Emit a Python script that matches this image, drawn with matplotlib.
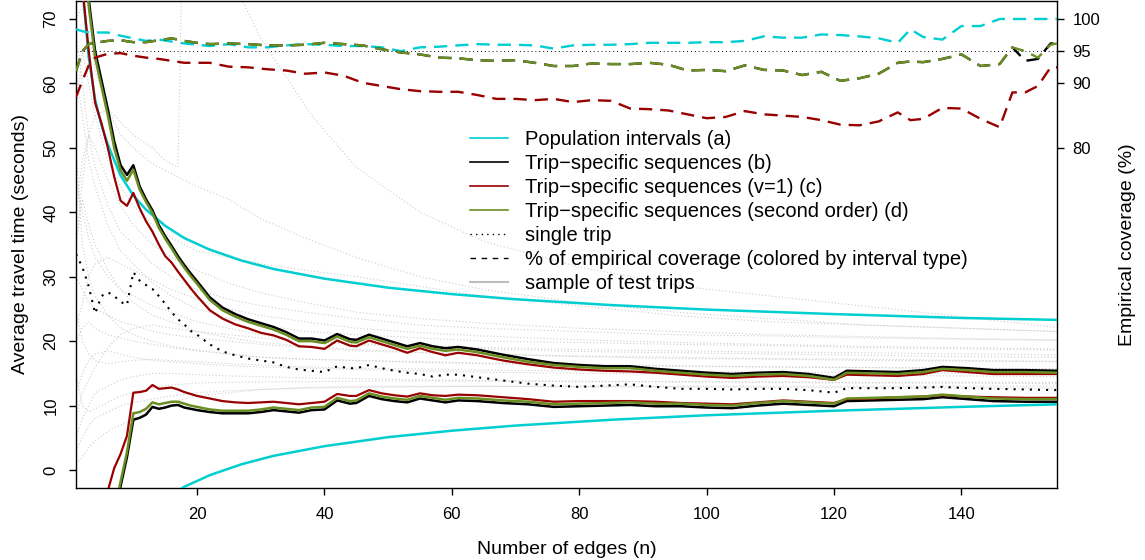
import numpy as np
import matplotlib.pyplot as plt
from matplotlib.lines import Line2D

plt.rcParams['font.family'] = ['Liberation Sans', 'DejaVu Sans']

# number of edges at which the trip-specific bounds were evaluated
n_edges = [1, 2, 3, 4, 5, 6, 7, 8, 9, 10, 11, 12, 13, 14, 15, 16, 17, 18, 19, 20,
           22, 24, 26, 28, 30, 32, 34, 36, 38, 40,
           42, 44, 45, 47, 49, 51, 53, 55, 57, 59, 61,
           64, 68, 72, 76, 80, 84, 88, 92, 96, 100, 104, 108, 112, 116, 120,
           122, 126, 130, 134, 137, 141, 145, 150, 155]

# (b) trip-specific sequences
seq_upper = [95, 84, 73, 65, 60.5, 56, 51, 47.3, 45.8, 47.3, 44, 42, 40.3, 38, 36.3, 34.8, 33.2, 31.8, 30.5, 29.3,
             26.8, 25.2, 24.2, 23.4, 22.8, 22.2, 21.4, 20.4, 20.4, 20.1,
             21.1, 20.3, 20.2, 21.0, 20.4, 19.8, 19.2, 19.7, 19.2, 18.9, 19.1,
             18.7, 17.9, 17.2, 16.6, 16.3, 16.1, 16.1, 15.7, 15.4, 15.1, 14.9, 15.1, 15.2, 14.9, 14.3,
             15.4, 15.3, 15.2, 15.5, 16.0, 15.8, 15.5, 15.5, 15.4]
seq_lower = [-60, -40, -30, -22, -16, -11, -7, -2.5, 2.0, 7.8, 8.1, 8.6, 9.8, 9.5, 9.7, 10.0, 10.1, 9.7, 9.5, 9.3,
             9.0, 8.8, 8.8, 8.8, 9.0, 9.3, 9.1, 8.9, 9.3, 9.4,
             10.8, 10.3, 10.4, 11.5, 11.0, 10.7, 10.5, 11.1, 10.8, 10.5, 10.8,
             10.7, 10.4, 10.2, 9.8, 9.9, 10.0, 10.1, 9.9, 9.9, 9.7, 9.6, 10.0, 10.3, 10.1, 9.9,
             10.7, 10.8, 10.9, 11.0, 11.3, 11.0, 10.7, 10.6, 10.6]

# (c) trip-specific sequences with v=1
v1_upper = [90, 75, 65, 57, 53.8, 50, 45.5, 41.8, 41.0, 43.0, 40.6, 38.6, 37, 35, 33.2, 32.2, 30.8, 29.5, 28.2, 27,
            24.8, 23.5, 22.6, 22.0, 21.3, 20.9, 20.2, 19.2, 19.1, 18.8,
            20.1, 19.3, 19.2, 20.1, 19.5, 18.9, 18.2, 18.9, 18.3, 17.8, 18.2,
            17.8, 17.0, 16.4, 15.9, 15.6, 15.4, 15.3, 15.1, 14.8, 14.5, 14.3, 14.5, 14.6, 14.4, 14.0,
            14.8, 14.7, 14.6, 14.9, 15.5, 15.2, 14.9, 14.9, 14.9]
v1_lower = [-40, -30, -20, -13, -7.5, -3.2, 0.3, 2.5, 5.3, 12.0, 12.1, 12.3, 13.2, 12.6, 12.7, 12.8, 12.5, 12.1, 11.8, 11.5,
            11.1, 10.7, 10.5, 10.4, 10.5, 10.6, 10.4, 10.2, 10.4, 10.6,
            11.8, 11.5, 11.5, 12.4, 11.9, 11.6, 11.4, 11.9, 11.6, 11.5, 11.7,
            11.6, 11.3, 11.0, 10.6, 10.7, 10.7, 10.7, 10.6, 10.4, 10.3, 10.2, 10.5, 10.8, 10.6, 10.4,
            11.0, 11.1, 11.3, 11.4, 11.6, 11.4, 11.3, 11.2, 11.2]

# (d) trip-specific sequences, second order
so_upper = [94, 83, 72, 64, 59.5, 55, 50, 46.5, 44.9, 46.6, 43.5, 41.6, 39.9, 37.6, 35.9, 34.4, 32.8, 31.4, 30.1, 28.9,
            26.4, 24.8, 23.8, 23.0, 22.4, 21.8, 21.0, 20.0, 20.0, 19.7,
            20.7, 19.9, 19.8, 20.6, 20.0, 19.4, 18.8, 19.3, 18.8, 18.5, 18.7,
            18.3, 17.5, 16.8, 16.3, 16.0, 15.8, 15.8, 15.4, 15.1, 14.8, 14.6, 14.8, 14.9, 14.6, 14.0,
            15.1, 15.0, 14.9, 15.2, 15.7, 15.5, 15.2, 15.2, 15.1]
so_lower = [-59, -39, -29, -21, -15, -10, -6.2, -1.8, 2.8, 8.8, 9.0, 9.5, 10.5, 10.2, 10.4, 10.6, 10.6, 10.3, 10.0, 9.8,
            9.4, 9.2, 9.2, 9.2, 9.4, 9.7, 9.5, 9.3, 9.7, 9.8,
            11.2, 10.7, 10.8, 11.9, 11.4, 11.1, 10.9, 11.5, 11.2, 10.9, 11.2,
            11.1, 10.8, 10.6, 10.2, 10.3, 10.4, 10.5, 10.3, 10.3, 10.1, 10.0, 10.4, 10.7, 10.5, 10.3,
            11.1, 11.2, 11.3, 11.4, 11.7, 11.4, 11.1, 11.0, 11.0]

# running average of one single trip
single_trip = [33.5, 31.5, 28.5, 24.3, 27.0, 27.6, 27.0, 26.1, 25.6, 30.7, 29.4, 28.7, 28.1, 27.0, 25.8, 24.5, 23.4, 22.6, 21.6, 21.0,
               19.5, 18.4, 17.8, 17.3, 17.0, 16.7, 16.0, 15.6, 15.4, 15.2,
               16.1, 15.8, 15.8, 16.3, 15.8, 15.4, 15.1, 14.9, 14.5, 14.8, 14.8,
               14.4, 13.9, 13.4, 13.1, 12.9, 13.1, 13.3, 12.9, 12.6, 12.6, 12.5, 12.6, 12.6, 12.4, 12.0,
               12.7, 12.7, 12.7, 12.8, 12.9, 12.7, 12.6, 12.5, 12.4]

# (a) population intervals
pop_n = [1, 2, 3, 4, 5, 6, 8, 10, 12, 15, 18, 22, 27, 32, 40, 50, 60, 70, 85, 100, 120, 140, 155]
pop_upper = [98, 75, 64, 57.5, 53.5, 50.5, 45.7, 42.6, 40.4, 37.9, 36.0, 34.2, 32.5, 31.2, 29.7, 28.3,
             27.3, 26.5, 25.6, 24.9, 24.2, 23.6, 23.3]
pop_lower = [-65, -41, -30.6, -24, -20, -16.8, -12.3, -9.2, -7, -4.5, -2.6, -0.8, 0.9, 2.2, 3.7, 5.1,
             6.1, 6.9, 7.8, 8.5, 9.2, 9.8, 10.2]

# empirical coverage (%) of each interval type
cov_n = [1, 2, 3, 4, 6, 8, 10, 12, 14, 16, 18, 20, 22,
         25, 28, 31, 34, 37, 40, 43, 46, 49, 52, 55, 58, 61, 64, 67, 70, 73, 76, 79, 82, 85, 88,
         91, 94, 97, 100, 103, 106, 109, 112, 115, 118, 121, 124, 127,
         130, 132, 134, 137, 140, 143, 146, 148, 150, 152, 154, 155]
cov_pop = [98.4, 98.1, 97.9, 97.9, 97.9, 97.4, 97.0, 96.6, 96.8, 96.5, 96.2, 96.0, 95.8,
           96.1, 95.6, 95.6, 95.9, 96.1, 96.0, 95.8, 95.8, 95.6, 95.0, 95.6, 95.7, 95.9, 96.1, 96.0, 96.0, 95.9, 95.4, 95.9, 96.0, 96.0, 96.1,
           96.3, 96.3, 96.3, 96.4, 96.4, 96.6, 97.3, 97.1, 97.1, 97.6, 97.5, 97.3, 97.0,
           96.3, 98.4, 97.2, 96.8, 98.9, 98.9, 100, 100, 100, 100, 100, 100]
cov_seq = [91.9, 95.0, 96.1, 96.3, 96.6, 96.7, 96.4, 96.4, 96.7, 97.0, 96.6, 96.3, 96.1,
           96.2, 96.1, 95.9, 95.9, 96.0, 96.3, 96.1, 95.9, 95.3, 94.8, 94.5, 94.0, 93.9, 93.6, 93.5, 93.6, 93.2, 92.7, 92.7, 93.1, 93.0, 93.0,
           93.2, 92.9, 92.0, 92.1, 91.9, 92.8, 92.1, 92.0, 91.3, 91.8, 90.4, 90.8, 91.5,
           93.2, 93.4, 93.3, 93.8, 94.5, 92.7, 93.0, 95.6, 93.5, 93.8, 96.2, 96.2]
cov_v1 = [87.9, 90.4, 92.8, 94.0, 94.6, 94.7, 94.3, 94.0, 93.8, 93.5, 93.2, 93.2, 93.2,
          92.6, 92.5, 92.2, 92.0, 91.5, 91.7, 91.2, 90.1, 89.6, 89.1, 88.8, 88.7, 88.7, 88.2, 87.6, 87.6, 87.4, 87.6, 87.1, 87.4, 87.3, 86.1,
          86.0, 85.8, 85.2, 84.6, 84.8, 85.7, 85.2, 85.0, 84.8, 84.3, 83.6, 83.5, 84.1,
          85.5, 84.3, 84.5, 86.2, 86.1, 84.5, 83.2, 88.6, 88.6, 89.6, 92.5, 92.5]
cov_so = [91.9, 95.0, 96.1, 96.3, 96.6, 96.7, 96.4, 96.4, 96.7, 97.0, 96.6, 96.3, 96.1,
          96.2, 96.1, 95.9, 95.9, 96.0, 96.3, 96.1, 95.9, 95.3, 94.8, 94.5, 94.0, 93.9, 93.6, 93.5, 93.6, 93.2, 92.7, 92.7, 93.1, 93.0, 93.0,
          93.2, 92.9, 92.0, 92.1, 91.9, 92.8, 92.1, 92.0, 91.3, 91.8, 90.4, 90.8, 91.5,
          93.2, 93.4, 93.3, 93.8, 94.5, 92.7, 93.0, 95.6, 95.0, 94.0, 96.0, 96.2]

# running averages of a sample of test trips
trip_n = [1, 2, 3, 4, 6, 8, 10, 13, 16, 20, 25, 30, 37, 45, 55, 65, 80, 95, 110, 125, 140, 155]
sample_trips = [
    [62, 55, 48, 44, 38, 34, 32, 29, 27, 25, 23.5, 22.5, 21.5, 21, 20.5, 20, 19.8, 19.5, 19.3, 19, 18.8, 18.6],
    [45, 40, 36, 33, 30, 28, 27, 25.5, 24.5, 23, 22, 21, 20, 19.5, 19, 18.8, 18.4, 18.2, 18, 17.8, 17.6, 17.5],
    [30, 28, 26, 25, 24, 23, 22.5, 21.5, 21, 20.5, 20, 19.5, 19, 18.5, 18.2, 18, 17.6, 17.3, 17.2, 17, 16.9, 16.8],
    [20, 22, 23, 22, 21, 20.5, 20, 19.5, 19, 18.5, 18, 17.5, 17.2, 17, 16.8, 16.6, 16.4, 16.2, 16, 15.9, 15.8, 15.7],
    [12, 15, 17, 18, 18.5, 18, 17.5, 17, 16.8, 16.5, 16.2, 16, 15.8, 15.6, 15.4, 15.2, 15, 14.9, 14.8, 14.7, 14.6, 14.5],
    [5, 8, 10, 12, 13, 14, 14.5, 15, 15, 14.8, 14.6, 14.5, 14.3, 14.2, 14, 13.9, 13.8, 13.7, 13.6, 13.5, 13.5, 13.4],
    [1, 2, 3.5, 4.5, 6, 7, 8, 9.5, 10.5, 11.5, 12, 12.5, 12.8, 13, 13, 13, 12.9, 12.9, 12.8, 12.8, 12.7, 12.7],
    [68, 60, 52, 47, 41, 37, 35, 32, 30, 28, 26.5, 25.5, 24.5, 23.5, 22.5, 22, 21.5, 21, 20.8, 20.5, 20.3, 20.1],
    [35, 42, 38, 35, 31, 28, 26, 24, 23, 21.5, 20.5, 19.8, 19.2, 18.7, 18.3, 18, 17.7, 17.5, 17.3, 17.2, 17, 16.9],
    [25, 20, 18, 17, 16.5, 16.8, 17, 17.2, 17, 16.8, 16.5, 16.3, 16, 15.8, 15.7, 15.5, 15.4, 15.3, 15.2, 15.1, 15, 15],
    [8, 12, 14, 16, 19, 21, 22, 22.5, 22, 21.5, 21, 20.5, 20, 19.6, 19.3, 19, 18.7, 18.5, 18.3, 18.2, 18, 17.9],
    [50, 35, 30, 27, 24, 22, 21, 20, 19.2, 18.6, 18, 17.5, 17.2, 17, 16.7, 16.5, 16.3, 16.1, 16, 15.9, 15.8, 15.7],
    [15, 10, 9, 9.5, 10.5, 11.5, 12, 12.8, 13.2, 13.5, 13.6, 13.7, 13.7, 13.8, 13.8, 13.8, 13.7, 13.7, 13.7, 13.6, 13.6, 13.6],
    [40, 48, 52, 50, 45, 41, 38, 35, 33, 31, 29, 27.5, 26, 24.5, 23.5, 22.8, 22, 21.5, 21, 20.7, 20.4, 20.2],
    [3, 5, 7, 8, 9, 10, 10.5, 11, 11.5, 12, 12.3, 12.5, 12.7, 12.8, 12.9, 13, 13, 13, 13, 13, 13, 13],
    [22, 26, 30, 32, 33, 32, 31, 29.5, 28, 26.5, 25, 24, 23, 22, 21.3, 20.8, 20.2, 19.8, 19.5, 19.2, 19, 18.8],
    [55, 65, 60, 55, 48, 44, 41, 38, 36, 34, 33, 32, 31, 30, 28.5, 27, 25.5, 24, 23, 22.5, 22, 21.5],
    [70, 72, 68, 62, 56, 52, 50, 47.5, 46, 44, 42, 39, 36, 33, 30, 28, 26, 24.5, 23.5, 22.5, 22, 21.5],
]
# one trip with a very long edge around n = 17
jump_trip_n = [1, 2, 3, 4, 6, 8, 10, 13, 15, 17, 18, 25, 27, 30, 34, 38, 45, 55, 65, 80, 97, 110, 127, 140, 155]
jump_trip = [35, 45, 52, 55, 56, 54, 52, 50, 48, 47, 95, 77, 73, 67, 61, 55, 47, 40, 35.5, 31.5, 28.4, 27, 25.2, 23.8, 22.1]

cyan = '#00CED1'
red = '#990000'
green = '#6B8E23'
grey = '#cccccc'

fig = plt.figure(figsize=(11.45, 5.6), dpi=100)
ax = fig.add_axes([76 / 1145, 72 / 560, 981 / 1145, 487 / 560])

for trip in sample_trips:
    ax.plot(trip_n, trip, color=grey, lw=0.8, linestyle=(0, (1, 2)), zorder=1)
ax.plot(jump_trip_n, jump_trip, color=grey, lw=0.8, linestyle=(0, (1, 2)), zorder=1)

ax.plot(n_edges, single_trip, color='black', lw=1.5, linestyle=(0, (1, 2.9)), zorder=2)

ax.plot(pop_n, pop_upper, color=cyan, lw=1.8, zorder=3)
ax.plot(pop_n, pop_lower, color=cyan, lw=1.8, zorder=3)
ax.plot(n_edges, seq_upper, color='black', lw=1.8, zorder=3)
ax.plot(n_edges, seq_lower, color='black', lw=1.8, zorder=3)
ax.plot(n_edges, v1_upper, color=red, lw=1.6, zorder=3)
ax.plot(n_edges, v1_lower, color=red, lw=1.6, zorder=3)
ax.plot(n_edges, so_upper, color=green, lw=1.8, zorder=4)
ax.plot(n_edges, so_lower, color=green, lw=1.8, zorder=4)

ax.set_xlim(1, 155)
ax.set_ylim(-2.79, 72.79)
ax.set_xticks([20, 40, 60, 80, 100, 120, 140])
ax.set_yticks([0, 10, 20, 30, 40, 50, 60, 70])
ax.set_yticklabels(['0', '10', '20', '30', '40', '50', '60', '70'], rotation=90, va='center', ha='center')
ax.tick_params(direction='out', length=5, width=1, labelsize=12)
ax.tick_params(axis='x', pad=9)
ax.tick_params(axis='y', pad=13)
for side in ax.spines:
    ax.spines[side].set_linewidth(1.0)

ax.set_xlabel('Number of edges (n)', fontsize=14)
ax.xaxis.set_label_coords(0.5, -0.108)
ax.set_ylabel('Average travel time (seconds)', fontsize=14)
ax.yaxis.set_label_coords(-0.048, 0.5)

# coverage on the right axis, same scale shifted by 30
ax2 = ax.twinx()
ax2.set_ylim(-2.79 + 30, 72.79 + 30)
for side in ax2.spines:
    ax2.spines[side].set_visible(False)
ax2.axhline(95, color='black', lw=0.7, linestyle=(0, (1, 3)))
dash = (0, (5.6, 3.4))
ax2.plot(cov_n, cov_pop, color=cyan, lw=1.7, linestyle=dash)
ax2.plot(cov_n, cov_v1, color=red, lw=1.7, linestyle=dash)
ax2.plot(cov_n, cov_seq, color='black', lw=1.7, linestyle=dash)
ax2.plot(cov_n, cov_so, color=green, lw=1.7, linestyle=dash)
ax2.set_yticks([80, 90, 95, 100])
ax2.tick_params(direction='out', length=5, width=1, labelsize=12, pad=6)
ax2.set_ylabel('Empirical coverage (%)', fontsize=14)
ax2.yaxis.set_label_coords(1.063, 0.5)

handles = [
    Line2D([], [], color=cyan, lw=1.2),
    Line2D([], [], color='black', lw=1.2),
    Line2D([], [], color=red, lw=1.2),
    Line2D([], [], color=green, lw=1.2),
    Line2D([], [], color='black', lw=1.0, linestyle=(0, (1, 3))),
    Line2D([], [], color='black', lw=1.0, linestyle=(0, (4, 4))),
    Line2D([], [], color='#bebebe', lw=1.5),
]
labels = ['Population intervals (a)',
          'Trip\u2212specific sequences (b)',
          'Trip\u2212specific sequences (v=1) (c)',
          'Trip\u2212specific sequences (second order) (d)',
          'single trip',
          '% of empirical coverage (colored by interval type)',
          'sample of test trips']
ax2.legend(handles, labels, loc='upper left', bbox_to_anchor=(470 / 1145, 1 - 130 / 560),
           bbox_transform=fig.transFigure, frameon=False, fontsize=14.5, borderpad=0,
           borderaxespad=0, handlelength=1.9, handletextpad=0.85, labelspacing=0.25)

fig.savefig('out.png', dpi=100)
